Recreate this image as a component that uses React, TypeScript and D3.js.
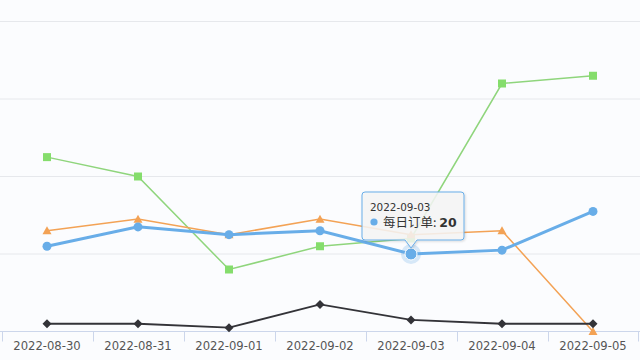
import React from "react";
import * as d3 from "d3";

const categories = ["2022-08-30", "2022-08-31", "2022-09-01", "2022-09-02", "2022-09-03", "2022-09-04", "2022-09-05"];
const blueValues = [22, 27, 25, 26, 20, 21, 31];
const blackValues = [2, 2, 1, 7, 3, 2, 2];
const greenValues = [45, 40, 16, 22, 24, 64, 66];
const orangeValues = [26, 29, 25, 29, 25, 26, 0];
const yTicks = [0, 20, 40, 60, 80];
const blueName = "每日订单";
const hoverIndex = 4;

const W = 640;
const H = 360;

export default function App() {
  const x = d3.scaleBand<string>().domain(categories).range([1.5, 638.5]);
  const y = d3.scaleLinear().domain([0, 80]).range([331.5, 21.5]);
  const cx = (i: number) => (x(categories[i]) as number) + x.bandwidth() / 2;
  const line = d3
    .line<number>()
    .x((_, i) => cx(i))
    .y((d) => y(d));

  const blue = "#68ade8";
  const black = "#333338";
  const green = "#85dd6c";
  const greenLine = "#8fd57c";
  const orange = "#f3a255";

  const hx = cx(hoverIndex);
  const hy = y(blueValues[hoverIndex]);
  // tooltip box
  const bx = 362, by = 192, bw = 102, bh = 48, r = 3;
  const tipY = hy - 6;
  const ax = hx;
  const tooltipPath = `M ${bx + r} ${by} L ${bx + bw - r} ${by} Q ${bx + bw} ${by} ${bx + bw} ${by + r} L ${bx + bw} ${by + bh - r} Q ${bx + bw} ${by + bh} ${bx + bw - r} ${by + bh} L ${ax + 6} ${by + bh} L ${ax} ${tipY} L ${ax - 6} ${by + bh} L ${bx + r} ${by + bh} Q ${bx} ${by + bh} ${bx} ${by + bh - r} L ${bx} ${by + r} Q ${bx} ${by} ${bx + r} ${by} Z`;

  return (
    <svg
      width={W}
      height={H}
      style={{ position: "absolute", left: 0, top: 0, display: "block" }}
      fontFamily="'DejaVu Sans', sans-serif"
    >
      <defs>
        <filter id="sh" x="-20%" y="-20%" width="140%" height="150%">
          <feDropShadow dx="1" dy="1" stdDeviation="1.2" floodColor="#000" floodOpacity="0.15" />
        </filter>
      </defs>
      <rect x={0} y={0} width={W} height={H} fill="#fbfcfe" />
      {yTicks.filter((t) => t > 0).map((t) => (
        <line key={t} x1={0} x2={W} y1={y(t)} y2={y(t)} stroke="#e6e8ec" strokeWidth={1} />
      ))}
      {/* x axis */}
      <line x1={0} x2={W} y1={y(0)} y2={y(0)} stroke="#ccd6eb" strokeWidth={1} />
      {categories.map((c, i) => (
        <line
          key={"t" + c}
          x1={Math.round(x(c) as number) + 0.5}
          x2={Math.round(x(c) as number) + 0.5}
          y1={y(0)}
          y2={y(0) + 10}
          stroke="#ccd6eb"
        />
      ))}
      <line x1={638.5} x2={638.5} y1={y(0)} y2={y(0) + 10} stroke="#ccd6eb" />
      {categories.map((c, i) => (
        <text key={c} x={cx(i)} y={350} textAnchor="middle" fontSize={11.6} fill="#555">
          {c}
        </text>
      ))}

      {/* green series */}
      <path d={line(greenValues) as string} fill="none" stroke={greenLine} strokeWidth={1.5} />
      {greenValues.map((v, i) => (
        <rect key={"g" + i} x={cx(i) - 4} y={y(v) - 4} width={8} height={8} fill={green} />
      ))}
      {/* orange series */}
      <path d={line(orangeValues) as string} fill="none" stroke={orange} strokeWidth={1.5} />
      {orangeValues.map((v, i) => {
        const px = cx(i), py = y(v);
        return <path key={"o" + i} d={`M ${px} ${py - 4.5} L ${px + 4.5} ${py + 3.5} L ${px - 4.5} ${py + 3.5} Z`} fill={orange} />;
      })}
      {/* black series */}
      <path d={line(blackValues) as string} fill="none" stroke={black} strokeWidth={1.8} />
      {blackValues.map((v, i) => {
        const px = cx(i), py = y(v);
        return <path key={"k" + i} d={`M ${px} ${py - 4.5} L ${px + 4.5} ${py} L ${px} ${py + 4.5} L ${px - 4.5} ${py} Z`} fill={black} />;
      })}
      {/* blue series (hovered) */}
      <path d={line(blueValues) as string} fill="none" stroke={blue} strokeWidth={3} />
      {blueValues.map((v, i) =>
        i === hoverIndex ? null : <circle key={"b" + i} cx={cx(i)} cy={y(v)} r={4.5} fill={blue} />
      )}
      <circle cx={hx} cy={hy} r={10} fill={blue} opacity={0.25} />
      <circle cx={hx} cy={hy} r={6} fill={blue} stroke="#fff" strokeWidth={1} />

      {/* tooltip */}
      <path d={tooltipPath} fill="rgba(247,247,247,0.85)" stroke={blue} strokeWidth={1} filter="url(#sh)" />
      <text x={370} y={211} fontSize={10.4} fill="#333">
        {categories[hoverIndex]}
      </text>
      <circle cx={374} cy={222} r={3.6} fill={blue} />
      <text x={383} y={227} fontSize={12.5} fill="#333" fontFamily="'Noto Sans CJK SC', 'DejaVu Sans', sans-serif">
        {blueName}: <tspan fontWeight="bold" fontFamily="'DejaVu Sans', sans-serif">{blueValues[hoverIndex]}</tspan>
      </text>
    </svg>
  );
}
